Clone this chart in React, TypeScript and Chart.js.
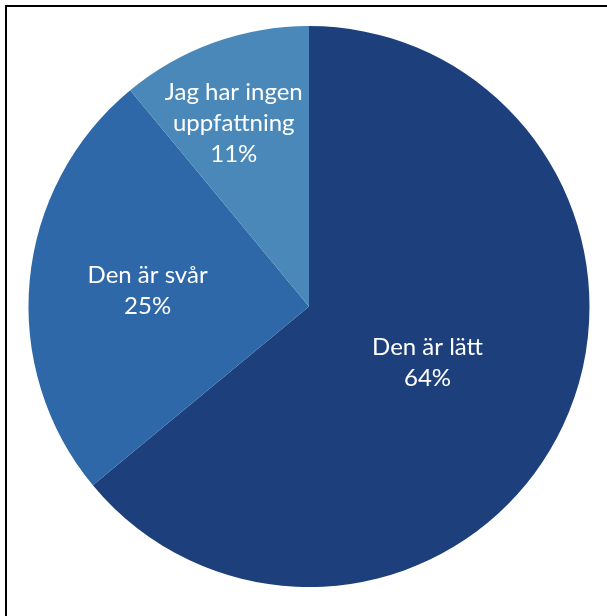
import React, { useEffect, useRef } from "react";
import { Chart, registerables } from "chart.js";

Chart.register(...registerables);

const categories: string[][] = [
  ["Den är lätt"],
  ["Den är svår"],
  ["Jag har ingen", "uppfattning"],
];
const values: number[] = [64, 25, 11];
const percentLabels: string[] = ["64%", "25%", "11%"];
const colors: string[] = ["#1d407d", "#2e68a8", "#4a88b9"];

// label placement (radial fraction and angular nudge per slice)
const labelRadius = [0.467, 0.578, 0.706];
const labelNudge = [0, 0, -0.044];

const labelPlugin = {
  id: "sliceLabels",
  afterDatasetsDraw(chart: any) {
    const { ctx } = chart;
    const meta = chart.getDatasetMeta(0);
    ctx.save();
    ctx.fillStyle = "#ffffff";
    ctx.font = "24px Lato";
    ctx.textAlign = "center";
    ctx.textBaseline = "middle";
    const lh = 31;
    meta.data.forEach((arc: any, i: number) => {
      const p = arc.getProps(["x", "y", "startAngle", "endAngle", "outerRadius"], true);
      const mid = (p.startAngle + p.endAngle) / 2 + labelNudge[i];
      const r = p.outerRadius * labelRadius[i];
      const cx = p.x + Math.cos(mid) * r;
      const cy = p.y + Math.sin(mid) * r;
      const lines = [...categories[i], percentLabels[i]];
      const top = cy - ((lines.length - 1) * lh) / 2;
      lines.forEach((t, j) => ctx.fillText(t, cx, top + j * lh));
    });
    ctx.restore();
  },
};

export default function App() {
  const ref = useRef<HTMLCanvasElement | null>(null);
  useEffect(() => {
    if (!ref.current) return;
    const chart = new Chart(ref.current, {
      type: "pie",
      data: {
        labels: categories.map((c) => c.join(" ")),
        datasets: [
          {
            data: values,
            backgroundColor: colors,
            borderWidth: 0,
          },
        ],
      },
      options: {
        animation: false,
        responsive: false,
        maintainAspectRatio: false,
        layout: { padding: { left: 28.5, right: 17.5, top: 26, bottom: 29 } },
        plugins: {
          legend: { display: false },
          tooltip: { enabled: false },
        },
      },
      plugins: [labelPlugin],
    });
    return () => chart.destroy();
  }, []);
  return (
    <div
      style={{
        position: "fixed",
        left: 0,
        top: 0,
        width: 607,
        height: 616,
        overflow: "hidden",
        background: "#fff",
      }}
    >
      <div
        style={{
          position: "absolute",
          left: 5,
          top: 5,
          width: 700,
          height: 700,
          border: "2px solid #000",
        }}
      />
      <canvas
        ref={ref}
        width={607}
        height={616}
        style={{ position: "absolute", left: 0, top: 0, width: 607, height: 616 }}
      />
    </div>
  );
}
